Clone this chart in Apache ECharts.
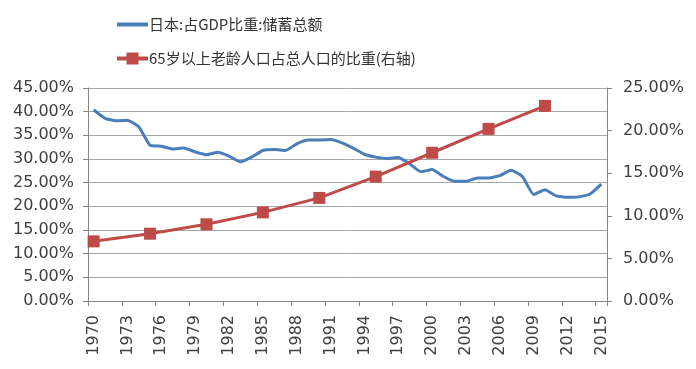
<!DOCTYPE html>
<html>
<head>
<meta charset="utf-8">
<script src="https://cdn.jsdelivr.net/npm/echarts@6/dist/echarts.min.js"></script>
<style>
html,body{margin:0;padding:0;background:#fff;}
#main{width:696px;height:369px;}
</style>
</head>
<body>
<div id="main"></div>
<script>
var years = [];
for (var y = 1970; y <= 2015; y++) years.push(String(y));

var savingsName = '日本:占GDP比重:储蓄总额';
var agedName = '65岁以上老龄人口占总人口的比重(右轴)';

// Gross savings, % of GDP (left axis), 1970-2015
var savings = [40.4, 38.6, 38.1, 38.2, 36.8, 32.9, 32.7, 32.1, 32.3, 31.5,
               30.9, 31.4, 30.6, 29.4, 30.4, 31.8, 32.0, 31.8, 33.2, 34.0,
               34.0, 34.1, 33.4, 32.3, 31.0, 30.4, 30.1, 30.3, 29.0, 27.3,
               27.8, 26.3, 25.3, 25.3, 26.0, 26.0, 26.5, 27.6, 26.3, 22.5,
               23.5, 22.2, 21.9, 22.0, 22.6, 24.7];

// Population aged 65+, % of total (right axis), every 5 years
var agedYears = ['1970','1975','1980','1985','1990','1995','2000','2005','2010'];
var agedValues = [7.0, 7.9, 9.0, 10.4, 12.1, 14.6, 17.4, 20.2, 22.9];

var leftTicks = {min: 0, max: 45, interval: 5};
var rightTicks = {min: 0, max: 25, interval: 5};

var aged = years.map(function (yr) {
  var i = agedYears.indexOf(yr);
  return i >= 0 ? agedValues[i] : null;
});

var pctFmt = function (v) { return v.toFixed(2) + '%'; };
var axisFont = {fontFamily: 'DejaVu Sans', fontSize: 16, color: '#404040'};

var chart = echarts.init(document.getElementById('main'), null, {renderer: 'canvas'});
chart.setOption({
  animation: false,
  backgroundColor: '#ffffff',
  legend: {
    orient: 'vertical',
    left: 110,
    top: 12,
    itemWidth: 31,
    itemHeight: 15,
    itemGap: 19,
    textStyle: {fontFamily: 'Noto Sans CJK SC', fontSize: 15, color: '#333333', padding: [0, 0, 0, -4]},
    data: [
      {name: savingsName, lineStyle: {width: 4}, itemStyle: {color: 'rgba(0,0,0,0)', borderColor: 'rgba(0,0,0,0)', borderWidth: 0}},
      {name: agedName, lineStyle: {width: 4}}
    ]
  },
  grid: {left: 88, right: 89, top: 88, bottom: 68, containLabel: false},
  xAxis: {
    type: 'category',
    data: years,
    boundaryGap: true,
    axisLine: {lineStyle: {color: '#868686', width: 1}},
    axisTick: {show: true, interval: 2, length: 5, lineStyle: {color: '#868686'}},
    axisLabel: {interval: 2, rotate: 90, margin: 14, fontFamily: 'DejaVu Sans', fontSize: 16, color: '#404040'},
    splitLine: {show: false}
  },
  yAxis: [{
    type: 'value',
    min: leftTicks.min, max: leftTicks.max, interval: leftTicks.interval,
    position: 'left',
    axisLine: {show: true, lineStyle: {color: '#868686'}},
    axisTick: {show: true, length: 5, lineStyle: {color: '#868686'}},
    axisLabel: Object.assign({formatter: pctFmt, margin: 14}, axisFont),
    splitLine: {show: true, lineStyle: {color: '#a6a6a6', width: 1}}
  }, {
    type: 'value',
    min: rightTicks.min, max: rightTicks.max, interval: rightTicks.interval,
    position: 'right',
    axisLine: {show: true, lineStyle: {color: '#868686'}},
    axisTick: {show: true, length: 5, lineStyle: {color: '#868686'}},
    axisLabel: Object.assign({formatter: pctFmt, margin: 16}, axisFont),
    splitLine: {show: false}
  }],
  series: [{
    name: savingsName,
    type: 'line',
    yAxisIndex: 0,
    data: savings,
    symbol: 'none',
    smooth: 0.15,
    lineStyle: {color: '#4A7EBB', width: 3},
    itemStyle: {color: '#4A7EBB'},
    z: 3
  }, {
    name: agedName,
    type: 'line',
    yAxisIndex: 1,
    data: aged,
    connectNulls: true,
    showAllSymbol: true,
    symbol: 'rect',
    symbolSize: 12,
    lineStyle: {color: '#BE4B48', width: 3},
    itemStyle: {color: '#BE4B48'},
    z: 4
  }]
});
</script>
</body>
</html>
